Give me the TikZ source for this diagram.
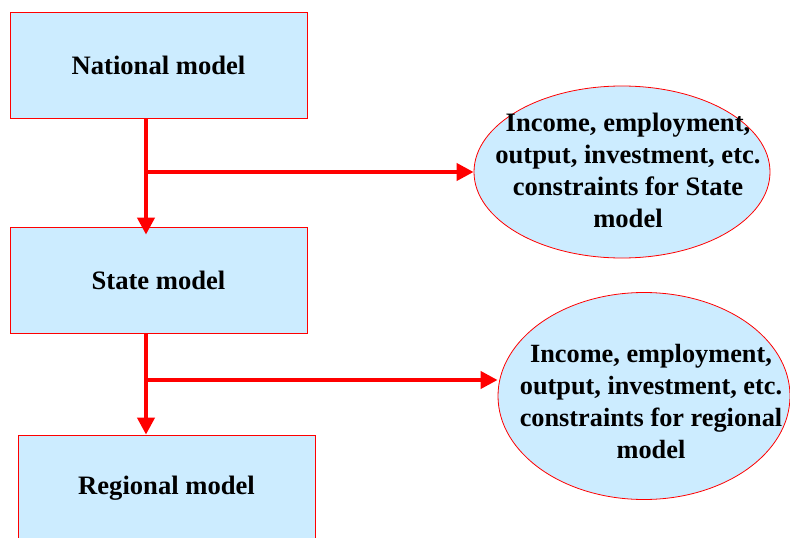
\documentclass[tikz,border=0pt]{standalone}
\usepackage{fontspec}
\setmainfont{Liberation Serif}
\usetikzlibrary{shapes.geometric,arrows.meta}
\definecolor{boxblue}{HTML}{CCECFF}

\begin{document}
\begin{tikzpicture}[x=1pt,y=-1pt,
  modelbox/.style={draw=red, fill=boxblue, line width=0.8pt, inner sep=0pt,
    minimum width=297pt, minimum height=106pt,
    font=\fontsize{26.6}{31}\selectfont\bfseries},
  constr/.style={ellipse, draw=red, fill=boxblue, line width=0.8pt, inner sep=0pt},
  constrtext/.style={align=center, inner sep=0pt, font=\fontsize{26.6}{32}\selectfont\bfseries},
  flow/.style={red, line width=4pt, -{Triangle[length=17pt,width=17pt]}}]
\useasboundingbox (0,0) rectangle (790,538);
\node[modelbox] (national) at (158.5,65) {National model};
\node[modelbox] (state) at (158.5,280) {State model};
\node[modelbox] (regional) at (166.5,488) {Regional model};
\node[constr, minimum width=296pt, minimum height=172pt] (constrState) at (622,172) {};
\node[constrtext] (constrStateText) at (628,170)
  {Income, employment,\\output, investment, etc.\\constraints for State\\model};
\node[constr, minimum width=292pt, minimum height=207pt] (constrRegional) at (644,396) {};
\node[constrtext, font=\fontsize{26.3}{32}\selectfont\bfseries] (constrRegionalText) at (651,401)
  {Income, employment,\\output, investment, etc.\\constraints for regional\\model};
\coordinate (b1) at (146,172);
\coordinate (b2) at (146,380);
\draw[flow] (b1 |- national.south) -- ([yshift=-8pt]b1 |- state.north);
\draw[flow] (b1) -- (constrState.west);
\draw[flow] (b2 |- state.south) -- (b2 |- regional.north);
\draw[flow] (b2) -- (b2 -| constrRegional.west);
\end{tikzpicture}
\end{document}
